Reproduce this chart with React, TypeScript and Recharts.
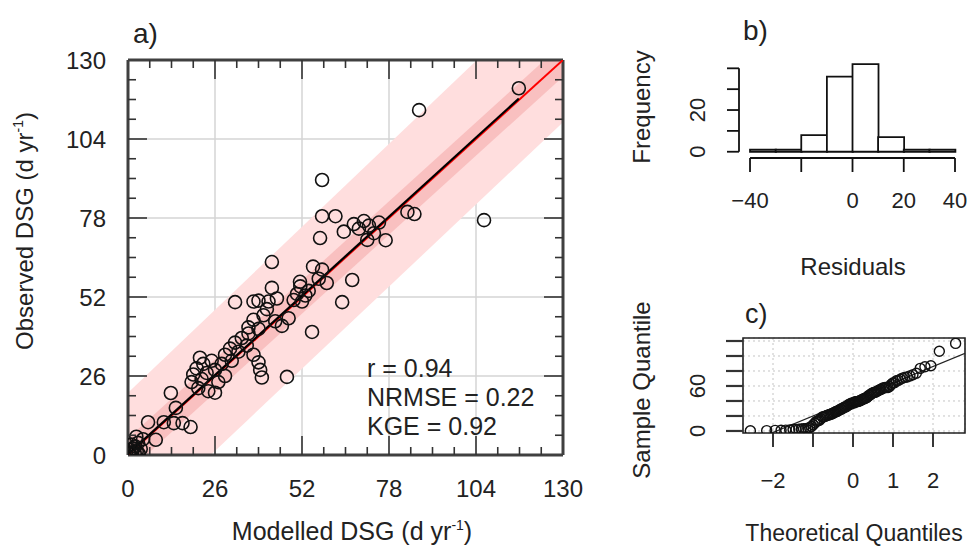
import { ComposedChart, BarChart, Bar, XAxis, YAxis, Area, Scatter, CartesianGrid, ReferenceLine, ReferenceArea } from 'recharts'

const FONT = '"Liberation Sans", Arial, Helvetica, sans-serif'
const TICK = '#333'

// a) observed vs modelled DSG (d yr-1)
const modelled = [
  0.5, 1.2, 2.0, 0.8, 2.6, 1.5, 3.2, 0.3, 2.2, 3.8, 1.0, 3.0, 4.5, 2.5, 8.3,
  6.0, 10.7, 13.7, 16.3, 18.7, 14.3, 12.8,
  19, 19.5, 20.5, 21, 22, 22.5, 23.5, 24, 25, 26, 27, 28, 21.5, 26, 29,
  29, 30.5, 31, 32, 33, 34, 35.5, 36, 37.5, 39, 39.5, 40, 47.5, 44, 46, 48,
  36, 37.5, 39, 40.5, 41.5, 42, 32, 37.5, 43, 44.5, 43, 39,
  49.5, 50.5, 51.5, 52, 53, 54, 51.4, 55.3, 58, 57, 59.4, 55, 64, 67, 57.4,
  58, 62, 58, 64.5, 67.5, 69, 70.5, 72, 73.5, 75, 71.5, 77, 83.5, 85.6, 87, 106.4, 116.8,
]
const observed = [
  0.3, 0.8, 0.5, 1.6, 1.2, 2.2, 0.4, 0.9, 2.8, 2.0, 3.4, 4.0, 5.2, 6.0, 5.0,
  10.8, 10.8, 10.5, 10.5, 9.2, 15.5, 20.4,
  24, 26.5, 28.5, 22, 25, 30, 27, 21, 31, 28, 24, 30, 32, 20.5, 26,
  33, 35, 31, 37, 34, 38.5, 36, 40, 33, 30.5, 28, 25.5, 25.7, 44, 42.5, 45,
  42, 44.5, 41.5, 46, 48, 50.5, 50.3, 50.5, 55, 51.5, 63.5, 50.8,
  51, 53, 55.5, 50.5, 52.5, 54, 57, 62, 61, 58, 56.6, 40.5, 50.3, 57.6, 71.4,
  78.6, 78.6, 90.5, 73.5, 76, 74.5, 77, 75.5, 73, 76.5, 70.8, 70.7, 80, 79.3, 113.5, 77.3, 120.7,
]
const axisTicksA = [0, 6.5, 13, 19.5, 26, 32.5, 39, 45.5, 52, 58.5, 65, 71.5, 78, 84.5, 91, 97.5, 104, 110.5, 117, 123.5, 130]
const gridA = [26, 52, 78, 104]
const bandX = [0, 130]
const outerLow = [-25.7, 109.5]
const outerHigh = [20.5, 157]
const innerLow = [-5.5, 124.5]
const innerHigh = [5.5, 135.5]
const fitX = [0, 116.8]
const fitY = [0.3, 117.3]
const oneToOne = [0, 130]
const statLines = ['r = 0.94', 'NRMSE = 0.22', 'KGE = 0.92']

// b) histogram of residuals
const binMids = [-35, -25, -15, -5, 5, 15, 25, 35]
const binCounts = [1, 1, 8, 36, 42, 7, 1, 1]
const histXTicks = [-40, -20, 0, 20, 40]
const histXLabels = ['\u221240', '', '0', '20', '40']
const histYTicks = [0, 10, 20, 30, 40]
const histYLabels = ['0', '', '20', '', '']

// c) normal Q-Q plot of the modelled values
const qqXTicks = [-2, -1, 0, 1, 2]
const qqXLabels = ['\u22122', '', '0', '1', '2']
const qqYTicks = [0, 20, 40, 60, 80, 100, 120]
const qqYLabels = ['0', '', '', '60', '', '', '']
const qqLineX = [-2.75, 2.8]
const qqLineY = [-18.5, 103.6]

// inverse normal CDF (Acklam), used like R's qqnorm(ppoints(n))
function qnorm(p: number): number {
  const a = [-39.69683028665376, 220.9460984245205, -275.9285104469687, 138.357751867269, -30.66479806614716, 2.506628277459239]
  const b = [-54.47609879822406, 161.5858368580409, -155.6989798598866, 66.80131188771972, -13.28068155288572]
  const c = [-0.007784894002430293, -0.3223964580411365, -2.400758277161838, -2.549732539343734, 4.374664141464968, 2.938163982698783]
  const d = [0.007784695709041462, 0.3224671290700398, 2.445134137142996, 3.754408661907416]
  const tail = (q: number) =>
    (((((c[0] * q + c[1]) * q + c[2]) * q + c[3]) * q + c[4]) * q + c[5]) / ((((d[0] * q + d[1]) * q + d[2]) * q + d[3]) * q + 1)
  if (p < 0.02425) return tail(Math.sqrt(-2 * Math.log(p)))
  if (p > 1 - 0.02425) return -tail(Math.sqrt(-2 * Math.log(1 - p)))
  const q = p - 0.5
  const r = q * q
  return ((((((a[0] * r + a[1]) * r + a[2]) * r + a[3]) * r + a[4]) * r + a[5]) * q) /
    (((((b[0] * r + b[1]) * r + b[2]) * r + b[3]) * r + b[4]) * r + 1)
}

const points = modelled.map((x, i) => ({ x, y: observed[i] }))
const bandRows = bandX.map((x, i) => ({ x, outer: [outerLow[i], outerHigh[i]], inner: [innerLow[i], innerHigh[i]] }))
const fitLine = fitX.map((x, i) => ({ x, y: fitY[i] }))
const idLine = oneToOne.map((v) => ({ x: v, y: v }))
const histRows = binMids.map((mid, i) => ({ mid, count: binCounts[i] }))
const qqSorted = [...modelled].sort((p, q) => p - q)
const qqPoints = qqSorted.map((q, i) => ({ t: qnorm((i + 0.5) / qqSorted.length), q }))
const qqLine = qqLineX.map((t, i) => ({ t, q: qqLineY[i] }))

const isMajor = (v: number) => v % 26 === 0
const inside = (v: number) => v > 0 && v < 130

const BottomTickA = ({ x, y, payload }: any) => {
  const v = payload.value
  return (
    <g>
      {inside(v) && <line x1={x} x2={x} y1={y} y2={y - (isMajor(v) ? 19 : 8)} stroke={TICK} strokeWidth={1.6} />}
      {isMajor(v) && (
        <text x={x} y={y + 42} textAnchor="middle" fontSize={24} fill="#222" fontFamily={FONT}>{v}</text>
      )}
    </g>
  )
}
const TopTickA = ({ x, y, payload }: any) => {
  const v = payload.value
  return inside(v) ? <line x1={x} x2={x} y1={y} y2={y + (isMajor(v) ? 19 : 8)} stroke={TICK} strokeWidth={1.6} /> : <g />
}
const LeftTickA = ({ x, y, payload }: any) => {
  const v = payload.value
  return (
    <g>
      {inside(v) && <line x1={x} x2={x + (isMajor(v) ? 19 : 8)} y1={y} y2={y} stroke={TICK} strokeWidth={1.6} />}
      {isMajor(v) && (
        <text x={x - 22} y={y} dy="0.36em" textAnchor="end" fontSize={24} fill="#222" fontFamily={FONT}>{v}</text>
      )}
    </g>
  )
}
const RightTickA = ({ x, y, payload }: any) => {
  const v = payload.value
  return inside(v) ? <line x1={x} x2={x - (isMajor(v) ? 19 : 8)} y1={y} y2={y} stroke={TICK} strokeWidth={1.6} /> : <g />
}

const HistXTick = ({ x, y, index }: any) => (
  <g>
    <line x1={x} x2={x} y1={y} y2={y + 14} stroke="#111" strokeWidth={1.8} />
    <text x={x} y={y + 50} textAnchor="middle" fontSize={22} fill="#222" fontFamily={FONT}>
      {histXLabels[index] ?? ''}
    </text>
  </g>
)
const HistYTick = ({ x, y, index }: any) => (
  <g>
    <line x1={x} x2={x - 12} y1={y} y2={y} stroke="#111" strokeWidth={1.8} />
    <text x={x - 34} y={y} transform={`rotate(-90 ${x - 34} ${y})`} textAnchor="middle" fontSize={22} fill="#222" fontFamily={FONT}>
      {histYLabels[index] ?? ''}
    </text>
  </g>
)
const QqXTick = ({ x, y, index }: any) => (
  <g>
    <line x1={x} x2={x} y1={y} y2={y + 14} stroke="#222" strokeWidth={1.8} />
    <text x={x} y={y + 55} textAnchor="middle" fontSize={22} fill="#222" fontFamily={FONT}>
      {qqXLabels[index] ?? ''}
    </text>
  </g>
)
const QqYTick = ({ x, y, index }: any) => (
  <g>
    <line x1={x} x2={x - 17} y1={y} y2={y} stroke="#333" strokeWidth={2.2} />
    <text x={x - 38} y={y} transform={`rotate(-90 ${x - 38} ${y})`} textAnchor="middle" fontSize={22} fill="#222" fontFamily={FONT}>
      {qqYLabels[index] ?? ''}
    </text>
  </g>
)

const frame = { stroke: '#404040', strokeWidth: 3 }

export default function App() {
  return (
    <div style={{ position: 'absolute', left: 0, top: 0, width: 969, height: 548, background: '#fff', overflow: 'hidden' }}>
      <div style={{ position: 'absolute', left: 0, top: 0 }}>
        <ComposedChart width={600} height={548} data={bandRows} margin={{ top: 50, right: 27, bottom: 53, left: 58 }}>
          <CartesianGrid xAxisId="b" yAxisId="l" verticalValues={gridA} horizontalValues={gridA} syncWithTicks={false} stroke="#d4d4d4" strokeWidth={1.5} />
          <XAxis xAxisId="b" dataKey="x" type="number" domain={[0, 130]} allowDataOverflow ticks={axisTicksA} interval={0}
            tickSize={0} tickMargin={0} tickLine={false} axisLine={frame} tick={BottomTickA} height={40} />
          <XAxis xAxisId="t" orientation="top" dataKey="x" type="number" domain={[0, 130]} allowDataOverflow ticks={axisTicksA} interval={0}
            tickSize={0} tickMargin={0} tickLine={false} axisLine={frame} tick={TopTickA} height={10} />
          <YAxis yAxisId="l" type="number" domain={[0, 130]} allowDataOverflow ticks={axisTicksA} interval={0}
            tickSize={0} tickMargin={0} tickLine={false} axisLine={frame} tick={LeftTickA} width={70} />
          <YAxis yAxisId="r" orientation="right" type="number" domain={[0, 130]} allowDataOverflow ticks={axisTicksA} interval={0}
            tickSize={0} tickMargin={0} tickLine={false} axisLine={frame} tick={RightTickA} width={10} />
          <Area xAxisId="b" yAxisId="l" type="linear" dataKey="outer" stroke="none" fill="#ffdede" fillOpacity={1} isAnimationActive={false} activeDot={false} />
          <Area xAxisId="b" yAxisId="l" type="linear" dataKey="inner" stroke="none" fill="#f9c0c0" fillOpacity={1} isAnimationActive={false} activeDot={false} />
          <Scatter xAxisId="b" yAxisId="l" data={idLine} dataKey="y" line={{ stroke: '#ff0000', strokeWidth: 2 }} shape={() => <g />} isAnimationActive={false} />
          <Scatter xAxisId="b" yAxisId="l" data={fitLine} dataKey="y" line={{ stroke: '#000', strokeWidth: 2.2 }} shape={() => <g />} isAnimationActive={false} />
          <Scatter xAxisId="b" yAxisId="l" data={points} dataKey="y" isAnimationActive={false}
            shape={(p: any) => <circle cx={p.cx} cy={p.cy} r={6.5} fill="none" stroke="#111" strokeWidth={1.6} />} />
        </ComposedChart>
      </div>

      <div style={{ position: 'absolute', left: 620, top: 0 }}>
        <BarChart width={349} height={280} data={histRows} barCategoryGap={0} barGap={0} margin={{ top: 60.6, right: 5.8, bottom: 82, left: 79 }}>
          <XAxis dataKey="mid" type="number" domain={[-44.3, 43.2]} allowDataOverflow ticks={histXTicks} interval={0}
            tickSize={0} tickMargin={0} tickLine={false} axisLine={false} tick={HistXTick} height={40} />
          <YAxis type="number" domain={[-3, 43.7]} allowDataOverflow ticks={histYTicks} interval={0}
            tickSize={0} tickMargin={0} tickLine={false} axisLine={false} tick={HistYTick} width={40} />
          <Bar dataKey="count" fill="#fff" stroke="#111" strokeWidth={1.8} isAnimationActive={false} />
          <ReferenceLine ifOverflow="visible" segment={[{ x: -40, y: -3 }, { x: 40, y: -3 }]} stroke="#111" strokeWidth={1.8} />
          <ReferenceLine ifOverflow="visible" segment={[{ x: -44.3, y: 0 }, { x: -44.3, y: 40 }]} stroke="#111" strokeWidth={1.8} />
        </BarChart>
      </div>

      <div style={{ position: 'absolute', left: 620, top: 280 }}>
        <ComposedChart width={349} height={268} data={qqLine} margin={{ top: 58, right: 4, bottom: 75, left: 83 }}>
          <CartesianGrid stroke="#c4c4c4" strokeDasharray="2 3" />
          <XAxis dataKey="t" type="number" domain={[-2.75, 2.8]} allowDataOverflow ticks={qqXTicks} interval={0}
            tickSize={0} tickMargin={0} tickLine={false} axisLine={false} tick={QqXTick} height={40} />
          <YAxis type="number" domain={[-2.7, 124]} allowDataOverflow ticks={qqYTicks} interval={0}
            tickSize={0} tickMargin={0} tickLine={false} axisLine={false} tick={QqYTick} width={40} />
          <Scatter data={qqLine} dataKey="q" line={{ stroke: '#222', strokeWidth: 1.2 }} shape={() => <g />} isAnimationActive={false} />
          <Scatter data={qqPoints} dataKey="q" isAnimationActive={false}
            shape={(p: any) => <circle cx={p.cx} cy={p.cy} r={5} fill="none" stroke="#111" strokeWidth={1.4} />} />
          <ReferenceArea x1={-2.75} x2={2.8} y1={-2.7} y2={124} ifOverflow="visible" fill="none" stroke="#222" strokeWidth={1.6} />
        </ComposedChart>
      </div>

      <svg width={969} height={548} style={{ position: 'absolute', left: 0, top: 0, pointerEvents: 'none' }} fontFamily={FONT} fill="#222">
        <text x={133} y={43} fontSize={28}>a)</text>
        <text x={33} y={231} transform="rotate(-90 33 231)" textAnchor="middle" fontSize={24}>
          Observed DSG (d yr<tspan dy={-10} fontSize={14}>-1</tspan><tspan dy={10}>)</tspan>
        </text>
        <text x={352} y={540} textAnchor="middle" fontSize={25}>
          Modelled DSG (d yr<tspan dy={-10} fontSize={14}>-1</tspan><tspan dy={10}>)</tspan>
        </text>
        {statLines.map((s, i) => (
          <text key={s} x={367} y={377 + i * 29} fontSize={25}>{s}</text>
        ))}
        <text x={743} y={40} fontSize={28}>b)</text>
        <text x={650} y={107} transform="rotate(-90 650 107)" textAnchor="middle" fontSize={24}>Frequency</text>
        <text x={853} y={275} textAnchor="middle" fontSize={24}>Residuals</text>
        <text x={745} y={323} fontSize={27}>c)</text>
        <text x={650} y={390} transform="rotate(-90 650 390)" textAnchor="middle" fontSize={24}>Sample Quantile</text>
        <text x={854} y={541} textAnchor="middle" fontSize={23}>Theoretical Quantiles</text>
      </svg>
    </div>
  )
}
